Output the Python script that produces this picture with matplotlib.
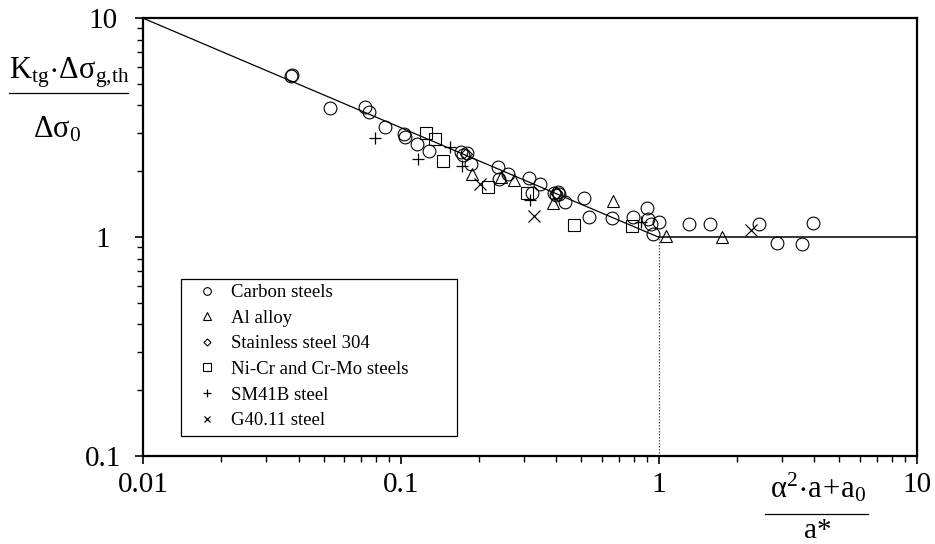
import matplotlib
matplotlib.use("Agg")
import matplotlib.pyplot as plt
from matplotlib.ticker import FixedLocator, FixedFormatter, LogLocator, NullFormatter
from matplotlib.lines import Line2D
from matplotlib.patches import Rectangle

plt.rcParams['font.family'] = ['Liberation Serif', 'DejaVu Serif']
plt.rcParams['mathtext.fontset'] = 'custom'
plt.rcParams['mathtext.rm'] = 'Liberation Serif'
plt.rcParams['mathtext.it'] = 'Liberation Serif'
plt.rcParams['mathtext.bf'] = 'Liberation Serif:bold'

# ---- data ----
carbon_x = [0.0375, 0.0378, 0.0530, 0.0724, 0.0751, 0.0866, 0.1029, 0.1035, 0.1149, 0.1282,
            0.1702, 0.1797, 0.1742, 0.1862, 0.2382, 0.2404, 0.2592, 0.314, 0.346, 0.321,
            0.393, 0.405, 0.399, 0.410, 0.4325, 0.5124, 0.5357, 0.659, 0.796, 0.902,
            0.910, 0.929, 1.004, 0.951, 1.312, 1.578, 2.45, 2.86, 3.60, 3.95]
carbon_y = [5.47, 5.50, 3.91, 3.94, 3.75, 3.20, 2.96, 2.86, 2.66, 2.48,
            2.46, 2.42, 2.38, 2.16, 2.10, 1.84, 1.945, 1.86, 1.75, 1.59,
            1.60, 1.615, 1.56, 1.58, 1.454, 1.507, 1.234, 1.229, 1.234, 1.356,
            1.208, 1.15, 1.171, 1.035, 1.147, 1.147, 1.147, 0.939, 0.929, 1.166]
al_x = [0.1888, 0.2435, 0.274, 0.387, 0.664, 1.065, 1.752]
al_y = [1.94, 1.89, 1.83, 1.44, 1.465, 1.01, 1.00]
ss_x = [0.178, 0.400]
ss_y = [2.40, 1.59]
nicr_x = [0.1245, 0.1354, 0.1458, 0.2163, 0.3065, 0.4685, 0.785]
nicr_y = [2.985, 2.80, 2.24, 1.693, 1.60, 1.144, 1.13]
sm_x = [0.0792, 0.1166, 0.1548, 0.1722, 0.316, 0.852]
sm_y = [2.855, 2.27, 2.58, 2.12, 1.48, 1.18]
g40_x = [0.2014, 0.328, 2.27]
g40_y = [1.746, 1.251, 1.08]

fit_x = [0.01, 1.0, 10.0]
fit_y = [10.0, 1.0, 1.0]
knee_x = [1.0, 1.0]
knee_y = [0.1, 1.0]

x_ticks = [0.01, 0.1, 1, 10]
x_labels = ['0.01', '0.1', '1', '10']
y_ticks = [0.1, 1, 10]
y_labels = ['0.1', '1', '10']

series_labels = ['Carbon steels', 'Al alloy', 'Stainless steel 304',
                 'Ni-Cr and Cr-Mo steels', 'SM41B steel', 'G40.11 steel']

# ---- figure ----
W, H = 935, 544
fig = plt.figure(figsize=(W / 100, H / 100), dpi=100)
ax = fig.add_axes([143.3 / W, 1 - 456.3 / H, (916.8 - 143.3) / W, (456.3 - 18.3) / H])
ax.set_xscale('log')
ax.set_yscale('log')
ax.set_xlim(0.01, 10)
ax.set_ylim(0.1, 10)

ax.plot(fit_x[:2], fit_y[:2], color='black', lw=0.9, zorder=2)
ax.plot(fit_x[1:], fit_y[1:], color='black', lw=1.1, zorder=2)
ax.plot(knee_x, knee_y, color='#555555', lw=0.9, ls=(0, (1.2, 1.2)), zorder=2)

mk = dict(ls='none', mfc='none', mec='black', color='black')
h1, = ax.plot(carbon_x, carbon_y, marker='o', ms=9.2, mew=0.8, **mk)
h2, = ax.plot(al_x, al_y, marker='^', ms=8.5, mew=0.8, **mk)
h3, = ax.plot(ss_x, ss_y, marker='D', ms=6, mew=0.8, **mk)
h4, = ax.plot(nicr_x, nicr_y, marker='s', ms=8.5, mew=0.8, **mk)
h5, = ax.plot(sm_x, sm_y, marker='+', ms=9, mew=0.9, **mk)
h6, = ax.plot(g40_x, g40_y, marker='x', ms=8, mew=0.9, **mk)

for s in ax.spines.values():
    s.set_linewidth(1.6)

ax.xaxis.set_major_locator(FixedLocator(x_ticks))
ax.xaxis.set_major_formatter(FixedFormatter(x_labels))
ax.yaxis.set_major_locator(FixedLocator(y_ticks))
ax.yaxis.set_major_formatter(FixedFormatter(y_labels))
ax.xaxis.set_minor_locator(LogLocator(base=10, subs=range(2, 10)))
ax.yaxis.set_minor_locator(LogLocator(base=10, subs=range(2, 10)))
ax.xaxis.set_minor_formatter(NullFormatter())
ax.yaxis.set_minor_formatter(NullFormatter())
ax.tick_params(which='major', direction='out', length=6, width=1.2, labelsize=21)
ax.tick_params(which='minor', direction='out', length=4, width=1.0)
ax.tick_params(axis='x', which='major', pad=5)
ax.tick_params(axis='y', which='major', pad=23)
ax.tick_params(right=False, top=False, which='both')
for lbl in ax.get_yticklabels():
    lbl.set_horizontalalignment('center')

# legend
leg = fig.legend([h1, h2, h3, h4, h5, h6], series_labels, loc='center left',
                 bbox_to_anchor=(198 / W, 1 - 356.7 / H), frameon=False,
                 fontsize=13.5, markerscale=0.6, handlelength=1.0,
                 handletextpad=0.75, labelspacing=0.45, borderpad=0,
                 borderaxespad=0)
fig.add_artist(Rectangle((181 / W, 1 - 436 / H), (457 - 181) / W, (436 - 279) / H,
                         transform=fig.transFigure, fill=True, facecolor='white',
                         edgecolor='black', lw=0.9, zorder=1))
leg.set_zorder(5)

# y label (fraction)
fig.text(69 / W, 1 - 79 / H, r'$\mathregular{K_{tg}\!\cdot\!\Delta\sigma_{g{,}th}}$',
         ha='center', va='baseline', fontsize=22)
fig.add_artist(Line2D([9 / W, 128 / W], [1 - 93 / H, 1 - 93 / H],
                      transform=fig.transFigure, color='black', lw=0.9))
fig.text(57 / W, 1 - 137 / H, r'$\mathregular{\Delta\sigma_0}$',
         ha='center', va='baseline', fontsize=22)

# x label (fraction)
fig.text(818 / W, 1 - 497 / H, r'$\mathregular{\alpha^2\!\cdot\! a\!+\!a_0}$',
         ha='center', va='baseline', fontsize=22)
fig.add_artist(Line2D([765 / W, 868 / W], [1 - 513.5 / H, 1 - 513.5 / H],
                      transform=fig.transFigure, color='black', lw=0.9))
fig.text(818 / W, 1 - 538 / H, 'a*', ha='center', va='baseline', fontsize=21)

fig.savefig('out.png', dpi=100)
